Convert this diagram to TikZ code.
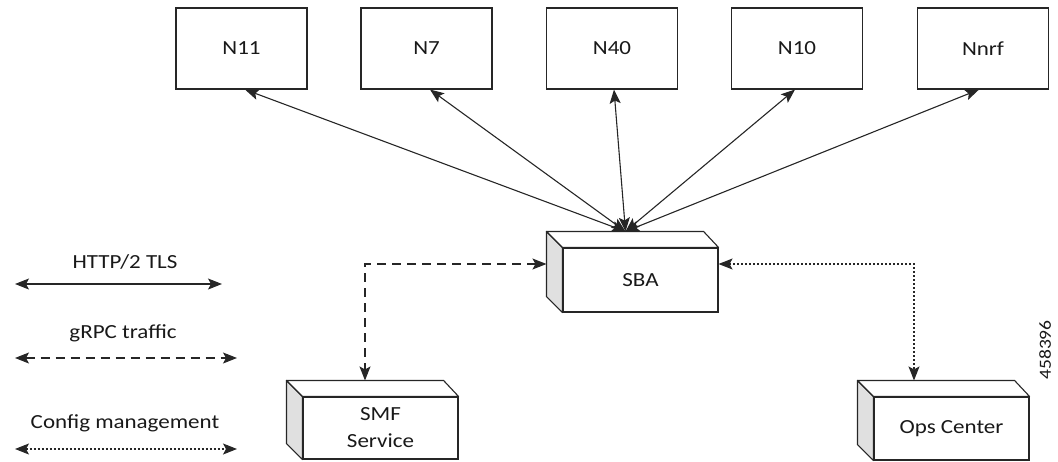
\documentclass[tikz,border=0pt]{standalone}
\usepackage{fontspec}
\setmainfont{Carlito}[FakeStretch=1.15]
\usetikzlibrary{arrows.meta,calc}
\begin{document}
\begin{tikzpicture}[x=1pt,y=-1pt,
  every node/.style={font=\fontsize{20}{27}\selectfont, text=black!90},
  ln/.style={line width=1.1pt, draw=black!85},
  topbox/.style={ln, rectangle, minimum width=131pt, minimum height=81pt, inner sep=0pt, fill=white},
  front/.style={ln, rectangle, minimum width=155pt, inner sep=0pt, fill=white, align=center},
  tips/.style={{Stealth[length=14pt,width=11pt,inset=3pt]}-{Stealth[length=14pt,width=11pt,inset=3pt]}},
  solidc/.style={ln, tips},
  dashc/.style={ln, tips, dash pattern=on 9pt off 6pt},
  dotc/.style={ln, tips, dash pattern=on 2pt off 2pt},
  sideface/.style={ln, fill=black!12, line join=round},
  topface/.style={ln, fill=white, line join=round}]
\useasboundingbox (0,0) rectangle (1058,461);

% top interface boxes
\node[topbox] (n11) at (241.5,48.5) {N11};
\node[topbox] (n7) at (426.5,48.5) {N7};
\node[topbox] (n40) at (612,48.5) {N40};
\node[topbox] (n10) at (797,48.5) {N10};
\node[topbox] (nnrf) at (983,48.5) {Nnrf};

% 3D boxes (front faces)
\node[front, minimum height=64pt] (sba) at (640.5,280) {SBA};
\node[front, minimum height=62pt] (smf) at (380.5,428) {SMF\\Service};
\node[front, minimum height=63pt] (ops) at (951.5,428.5) {Ops Center};

\foreach \b in {sba,smf,ops}{
  \filldraw[sideface] (\b.north west) -- ++(-16,-16) -- ($(\b.south west)+(-16,-16)$) -- (\b.south west) -- cycle;
  \filldraw[topface] (\b.north west) -- ++(-16,-16) -- ($(\b.north east)+(-15,-16)$) -- (\b.north east) -- cycle;
}

% connectors to the interfaces
\coordinate (hub) at ($(sba.north)+(-15,-16)$);
\draw[solidc] (hub) -- ([xshift=3.5pt]n11.south);
\draw[solidc] (hub) -- ([xshift=3.5pt]n7.south);
\draw[solidc] (hub) -- ([xshift=2pt]n40.south);
\draw[solidc] (hub) -- ([xshift=-2pt]n10.south);
\draw[solidc] (hub) -- ([xshift=-4pt]nnrf.south);

% gRPC and config connectors
\coordinate (sbaL) at ($(sba.west)+(-16,-16)$);
\coordinate (smfT) at ($(smf.north)+(-15.5,-16)$);
\draw[dashc] (sbaL) -| (smfT);
\coordinate (sbaR) at ($(sba.east)+(0,-16)$);
\coordinate (opsT) at ($(ops.north)+(-37.5,-16)$);
\draw[dotc] (sbaR) -| (opsT);

% legend
\node (l1) at (125,262) {HTTP/2 TLS};
\coordinate (l1a) at (15,284); \coordinate (l1b) at (222,284);
\draw[solidc] (l1a) -- (l1b);
\node (l2) at (123,333) {gRPC traffic};
\coordinate (l2a) at (15,358); \coordinate (l2b) at (237,358);
\draw[dashc] (l2a) -- (l2b);
\node (l3) at (125,423) {Config management};
\coordinate (l3a) at (15,449); \coordinate (l3b) at (237,449);
\draw[dotc] (l3a) -- (l3b);

\node[rotate=90, font=\fontsize{17}{20}\selectfont] (fig) at (1045,350) {458396};
\end{tikzpicture}
\end{document}
